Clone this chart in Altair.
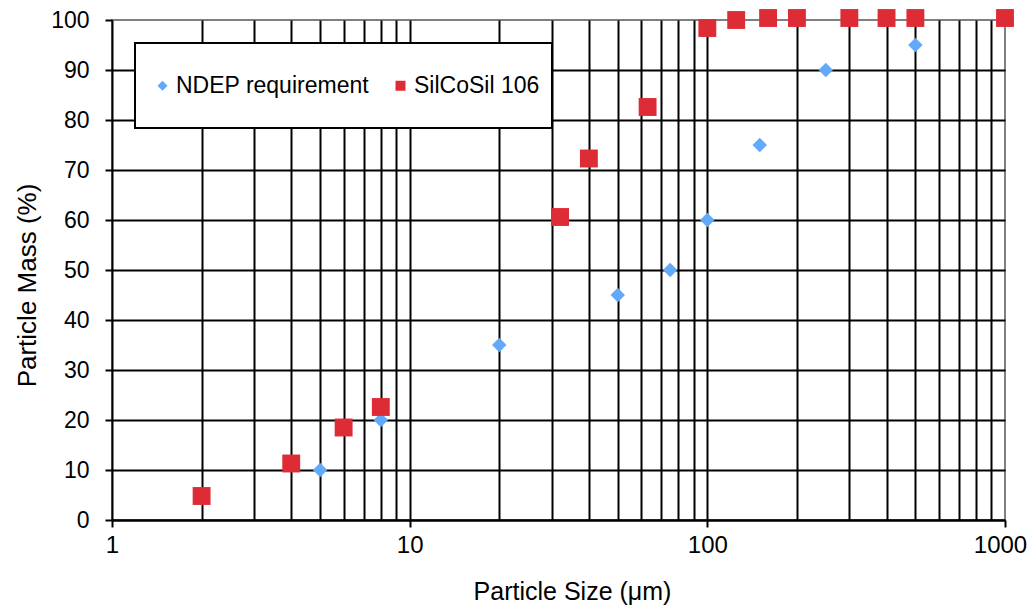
import altair as alt
import pandas as pd

# ---- data ----
ndep_size = [2, 5, 8, 20, 50, 75, 100, 150, 250, 500, 1000]
ndep_mass = [5, 10, 20, 35, 45, 50, 60, 75, 90, 95, 100]

silco_size = [2, 4, 6, 8, 32, 40, 63, 100, 125, 160, 200, 300, 400, 500, 1000]
silco_mass = [4.8, 11.3, 18.5, 22.6, 60.6, 72.3, 82.6, 98.4, 100, 100.4, 100.4, 100.4, 100.4, 100.4, 100.4]

series_names = ["NDEP requirement", "SilCoSil 106"]
series_colors = ["#62A9FA", "#DE2C36"]
series_shapes = ["diamond", "square"]

x_major = [1, 10, 100, 1000]
x_grid = [m * d for d in [1, 10, 100] for m in range(1, 10)] + [1000]
y_ticks = list(range(0, 101, 10))

df_ndep = pd.DataFrame({"size": ndep_size, "mass": ndep_mass, "series": series_names[0]})
df_silco = pd.DataFrame({"size": silco_size, "mass": silco_mass, "series": series_names[1]})

FONT = "Liberation Sans"

major_test = " || ".join(f"datum.value == {v}" for v in x_major)
edge_test = f"datum.value == {x_major[0]} || datum.value == {x_major[-1]}"

x_enc = alt.X(
    "size:Q",
    scale=alt.Scale(type="log", domain=[1, 1000]),
    axis=alt.Axis(
        title="Particle Size (\u03bcm)",
        values=x_grid,
        labelExpr=f"({major_test}) ? format(datum.value, 'd') : ''",
        grid=True,
        gridColor="black",
        gridWidth=2,
        gridOpacity={"condition": {"test": edge_test, "value": 0}, "value": 1},
        tickOpacity={"condition": {"test": major_test, "value": 1}, "value": 0},
        tickSize=7,
        tickWidth=2,
        tickColor="black",
        domainColor="black",
        domainWidth=2,
        labelFontSize=24,
        labelPadding=6,
        labelFlush=False,
        labelOffset={"condition": {"test": f"datum.value == {x_major[-1]}", "value": -5}, "value": 0},
        titleFontSize=25,
        titleFontWeight="normal",
        titlePadding=22,
        titleX=460,
    ),
)
y_enc = alt.Y(
    "mass:Q",
    scale=alt.Scale(domain=[0, 100]),
    axis=alt.Axis(
        title="Particle Mass (%)",
        values=y_ticks,
        grid=True,
        gridColor="black",
        gridWidth=2,
        gridOpacity={"condition": {"test": "datum.value == 100", "value": 0}, "value": 1},
        tickSize=7,
        tickWidth=2,
        tickColor="black",
        domainColor="black",
        domainWidth=2,
        labelFontSize=23,
        labelPadding=16,
        titleFontSize=26,
        titleFontWeight="normal",
        titlePadding=10,
        titleY=265,
    ),
)

legend_def = alt.Legend(
    title=" ",
    titleOrient="top",
    titlePadding=7,
    titleFontSize=12,
    orient="none",
    legendX=23,
    legendY=23,
    direction="horizontal",
    padding=12,
    columnPadding=15,
    labelFontSize=23,
    labelLimit=0,
    labelOffset=2,
    labelExpr="[datum.label, '']",
    symbolSize=100,
    symbolOffset=4,
    fillColor="white",
    strokeColor="black",
)

color_enc = alt.Color(
    "series:N", scale=alt.Scale(domain=series_names, range=series_colors), legend=legend_def
)
shape_enc = alt.Shape(
    "series:N", scale=alt.Scale(domain=series_names, range=series_shapes), legend=legend_def
)

blue = alt.Chart(df_ndep).mark_point(filled=True, size=210, opacity=1).encode(
    x=x_enc, y=y_enc, color=color_enc, shape=shape_enc
)
red = alt.Chart(df_silco).mark_point(filled=True, size=320, opacity=1).encode(
    x=x_enc, y=y_enc, color=color_enc, shape=shape_enc
)

chart = (
    alt.layer(blue, red)
    .properties(
        width=893,
        height=500,
        autosize=alt.AutoSizeParams(type="none"),
        padding={"left": 104, "top": 12, "right": 22, "bottom": 85},
        background="white",
    )
    .configure(style={"guide-label": {"lineHeight": 18}})
    .configure_view(stroke="#808080", strokeWidth=2)
    .configure_axis(labelFont=FONT, titleFont=FONT, labelColor="black", titleColor="black")
    .configure_legend(labelFont=FONT, labelColor="black", strokeWidth=2)
)

chart.save("out.html", embed_options={"renderer": "svg", "actions": False})
